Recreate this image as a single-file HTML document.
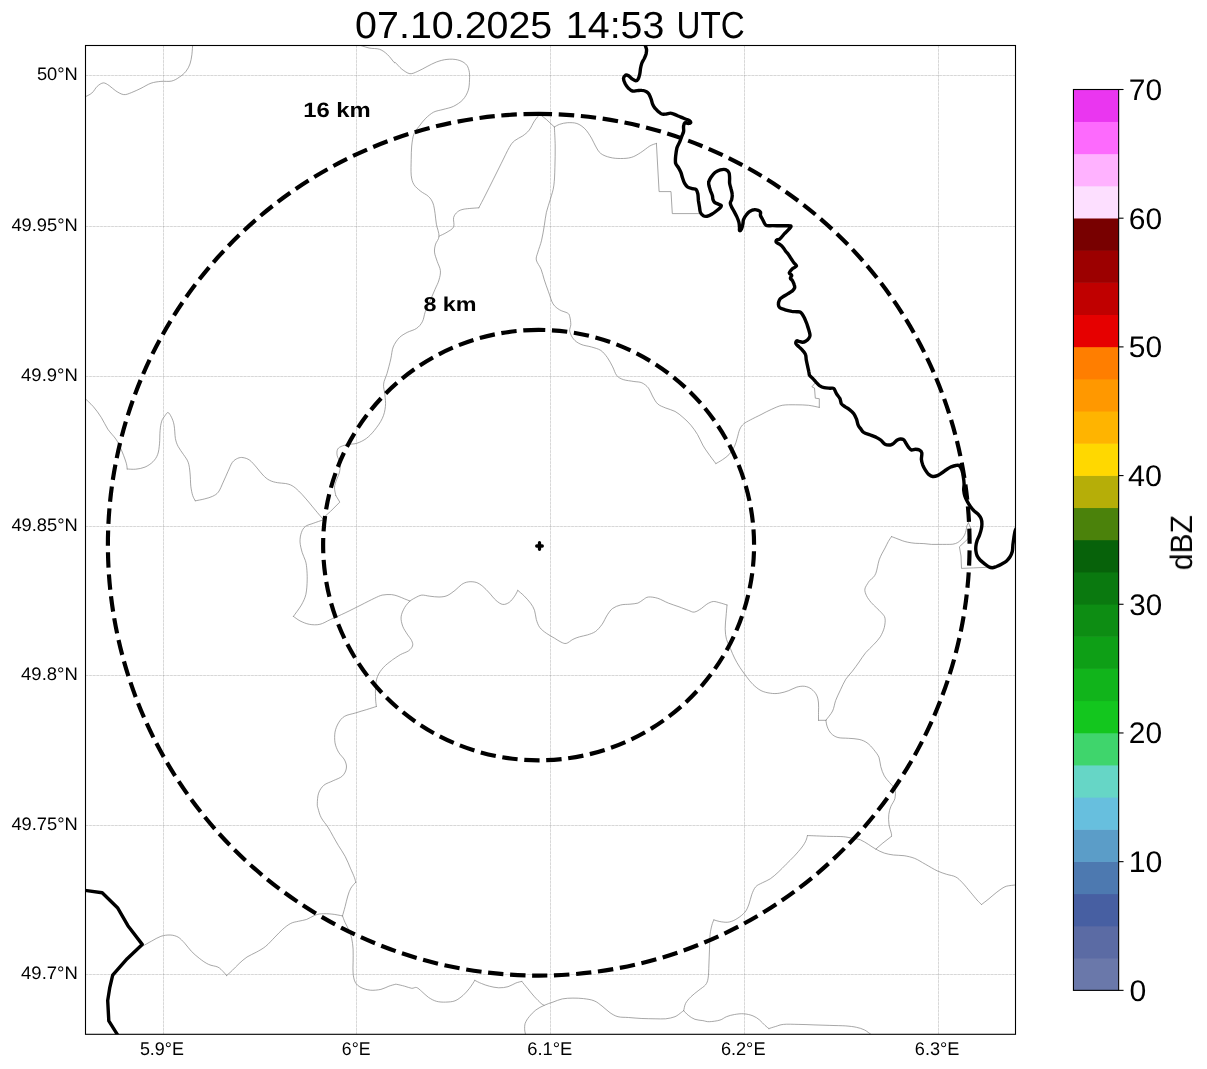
<!DOCTYPE html>
<html><head><meta charset="utf-8"><title>Radar 07.10.2025 14:53 UTC</title>
<style>html,body{margin:0;padding:0;background:#fff;}body{width:1207px;height:1069px;overflow:hidden;}svg{display:block;}text{font-family:"Liberation Sans",sans-serif;fill:#000;}</style>
</head><body>
<svg width="1207" height="1069" viewBox="0 0 1207 1069">
<rect x="0" y="0" width="1207" height="1069" fill="#ffffff"/>
<defs><clipPath id="axclip"><rect x="85.50" y="45.50" width="930.00" height="988.80"/></clipPath></defs>
<g clip-path="url(#axclip)">
<g stroke="#808080" stroke-opacity="0.13" stroke-width="1" fill="none">
<line x1="85.50" y1="75.50" x2="1015.50" y2="75.50"/>
<line x1="85.50" y1="226.50" x2="1015.50" y2="226.50"/>
<line x1="85.50" y1="376.50" x2="1015.50" y2="376.50"/>
<line x1="85.50" y1="526.50" x2="1015.50" y2="526.50"/>
<line x1="85.50" y1="675.50" x2="1015.50" y2="675.50"/>
<line x1="85.50" y1="825.50" x2="1015.50" y2="825.50"/>
<line x1="85.50" y1="974.50" x2="1015.50" y2="974.50"/>
<line x1="163.50" y1="1034.30" x2="163.50" y2="45.50"/>
<line x1="356.50" y1="1034.30" x2="356.50" y2="45.50"/>
<line x1="550.50" y1="1034.30" x2="550.50" y2="45.50"/>
<line x1="744.50" y1="1034.30" x2="744.50" y2="45.50"/>
<line x1="938.50" y1="1034.30" x2="938.50" y2="45.50"/>
</g>
<g stroke="#808080" stroke-opacity="0.21" stroke-width="1" stroke-dasharray="2.57 1.11" fill="none">
<line x1="85.50" y1="75.50" x2="1015.50" y2="75.50"/>
<line x1="85.50" y1="226.50" x2="1015.50" y2="226.50"/>
<line x1="85.50" y1="376.50" x2="1015.50" y2="376.50"/>
<line x1="85.50" y1="526.50" x2="1015.50" y2="526.50"/>
<line x1="85.50" y1="675.50" x2="1015.50" y2="675.50"/>
<line x1="85.50" y1="825.50" x2="1015.50" y2="825.50"/>
<line x1="85.50" y1="974.50" x2="1015.50" y2="974.50"/>
<line x1="163.50" y1="1034.30" x2="163.50" y2="45.50"/>
<line x1="356.50" y1="1034.30" x2="356.50" y2="45.50"/>
<line x1="550.50" y1="1034.30" x2="550.50" y2="45.50"/>
<line x1="744.50" y1="1034.30" x2="744.50" y2="45.50"/>
<line x1="938.50" y1="1034.30" x2="938.50" y2="45.50"/>
</g>
<g stroke="#848484" stroke-width="0.72" fill="none" stroke-linejoin="round" stroke-linecap="round">
<path d="M 84.8 97.0 C 86.0 96.3 89.9 94.8 91.9 93.0 C 94.0 91.3 95.3 88.1 97.2 86.4 C 99.1 84.7 101.3 83.1 103.3 82.9 C 105.3 82.8 107.1 84.3 109.2 85.6 C 111.2 86.9 113.4 89.4 115.8 90.9 C 118.2 92.4 121.1 94.3 123.7 94.6 C 126.4 94.9 128.8 93.6 131.7 92.5 C 134.6 91.4 137.8 89.8 141.0 88.3 C 144.2 86.7 147.7 84.4 151.0 83.2 C 154.4 82.1 157.5 81.7 160.9 81.4 C 164.3 81.0 168.4 81.8 171.5 81.1 C 174.6 80.4 177.0 78.8 179.4 77.1 C 181.8 75.5 184.3 73.5 186.0 71.3 C 187.8 69.1 189.0 66.6 190.0 63.9 C 191.0 61.1 191.4 57.9 191.9 54.6 C 192.3 51.3 192.5 46.0 192.7 44.2"/>
<path d="M 357.0 44.2 C 359.0 44.9 365.2 47.1 369.0 48.0 C 372.7 48.8 376.5 48.2 379.6 49.3 C 382.7 50.4 385.1 52.4 387.5 54.6 C 390.0 56.8 392.9 61.2 394.2 62.5 C 395.5 63.9 394.0 61.4 395.3 62.5 C 396.6 63.6 399.5 67.3 401.9 69.2 C 404.4 71.0 407.2 73.3 409.9 73.7 C 412.5 74.0 415.0 72.5 417.8 71.3 C 420.7 70.1 424.0 68.1 427.1 66.5 C 430.2 65.0 433.1 63.2 436.4 62.0 C 439.7 60.8 443.5 59.7 447.0 59.4 C 450.5 59.0 454.5 59.1 457.6 59.9 C 460.7 60.6 463.7 62.1 465.6 63.9 C 467.5 65.6 468.3 67.8 469.0 70.5 C 469.7 73.1 469.7 76.5 469.5 79.8 C 469.4 83.1 469.3 87.1 468.2 90.4 C 467.1 93.7 465.3 97.0 462.9 99.7 C 460.5 102.3 456.9 104.6 453.6 106.3 C 450.3 107.9 446.3 108.5 443.0 109.5 C 439.7 110.4 436.6 110.7 433.7 112.1 C 430.9 113.6 428.2 115.9 425.8 118.2 C 423.4 120.5 421.2 123.5 419.2 126.2 C 417.2 128.8 415.1 130.8 413.9 134.1 C 412.6 137.4 412.2 141.8 411.7 146.0 C 411.3 150.2 411.3 154.4 411.2 159.3 C 411.1 164.2 410.8 171.0 411.2 175.2 C 411.7 179.4 412.3 181.8 413.9 184.5 C 415.4 187.1 418.1 189.1 420.5 191.1 C 422.9 193.1 426.4 194.4 428.4 196.4 C 430.5 198.4 431.8 200.2 432.9 203.0 C 434.1 205.9 434.5 210.1 435.1 213.6 C 435.6 217.2 435.7 220.5 436.4 224.3 C 437.1 228.0 439.2 232.9 439.0 236.2 C 438.9 239.5 436.4 241.5 435.6 244.1 C 434.8 246.8 434.3 249.2 434.5 252.1 C 434.8 255.0 436.2 258.3 437.2 261.4 C 438.2 264.5 440.1 267.6 440.4 270.6 C 440.7 273.7 439.9 276.8 439.0 279.9 C 438.2 283.0 436.4 286.1 435.1 289.2 C 433.7 292.3 432.4 295.4 431.1 298.5 C 429.8 301.6 428.1 305.4 427.1 307.8 C 426.1 310.1 425.8 310.2 425.0 312.5 C 424.2 314.9 423.8 319.2 422.3 321.8 C 420.9 324.5 419.0 326.7 416.5 328.4 C 414.0 330.2 410.1 330.9 407.2 332.4 C 404.4 334.0 401.6 335.3 399.3 337.7 C 396.9 340.2 394.6 343.5 393.2 347.0 C 391.8 350.5 391.8 354.5 390.8 358.9 C 389.8 363.3 388.2 369.3 387.0 373.5 C 385.8 377.7 383.9 380.6 383.6 384.1 C 383.2 387.6 384.6 391.0 384.9 394.7 C 385.2 398.5 385.9 402.7 385.4 406.6 C 385.0 410.6 384.1 414.6 382.2 418.6 C 380.4 422.6 376.9 427.2 374.3 430.5 C 371.6 433.8 369.2 436.3 366.3 438.5 C 363.4 440.6 359.9 442.3 357.0 443.2 C 354.2 444.2 351.5 443.9 349.1 444.3 C 346.7 444.7 344.4 445.1 342.5 445.9 C 340.6 446.7 338.6 447.4 337.7 449.1 C 336.8 450.7 336.7 453.3 337.2 455.7 C 337.6 458.1 340.0 460.8 340.3 463.6 C 340.7 466.5 339.9 470.3 339.3 472.9 C 338.7 475.6 337.4 477.1 336.6 479.6 C 335.8 482.0 334.6 484.9 334.5 487.5 C 334.4 490.2 335.6 494.1 335.8 495.5"/>
<path d="M 335.8 495.5 L 339.8 502.1 L 330.5 511.4 L 322.6 518.5"/>
<path d="M 439.0 236.2 C 440.4 235.5 444.6 233.8 447.0 232.2 C 449.4 230.7 452.5 229.3 453.6 226.9 C 454.7 224.5 453.0 220.1 453.6 217.6 C 454.3 215.1 455.8 213.2 457.6 211.8 C 459.4 210.4 460.7 209.8 464.2 209.1 C 467.8 208.5 476.4 208.0 478.8 207.8"/>
<path d="M 478.8 207.8 C 479.9 205.7 483.0 199.9 485.4 195.1 C 487.9 190.3 490.7 184.5 493.4 179.2 C 496.0 173.9 498.7 168.6 501.3 163.3 C 504.0 158.0 507.1 151.1 509.3 147.4 C 511.5 143.6 512.4 142.6 514.6 140.7 C 516.8 138.8 520.1 137.7 522.6 136.0 C 525.0 134.2 527.2 132.7 529.2 130.1 C 531.2 127.6 532.7 123.5 534.5 120.9 C 536.3 118.2 538.9 115.3 539.8 114.2"/>
<path d="M 539.8 114.2 L 546.4 119.5 L 554.4 127.0"/>
<path d="M 554.4 127.0 C 555.3 126.5 557.5 125.0 559.7 124.3 C 561.9 123.6 564.8 122.8 567.6 122.7 C 570.5 122.6 574.0 122.5 576.9 123.5 C 579.8 124.5 582.4 126.4 584.9 128.8 C 587.3 131.2 589.7 135.2 591.5 138.1 C 593.3 141.0 593.9 143.5 595.5 146.0 C 597.0 148.6 598.3 151.6 600.8 153.5 C 603.2 155.4 606.7 156.6 610.0 157.4 C 613.4 158.3 617.1 158.5 620.6 158.5 C 624.2 158.5 627.9 158.4 631.3 157.4 C 634.6 156.5 637.4 154.6 640.5 152.7 C 643.6 150.8 647.2 147.6 649.8 146.0 C 652.5 144.5 655.3 143.8 656.4 143.4"/>
<path d="M 656.4 143.4 L 659.1 191.6 L 671.0 191.6 L 672.3 213.6 L 698.9 213.6"/>
<path d="M 554.4 127.0 C 554.5 130.1 555.1 139.3 555.2 146.0 C 555.3 152.8 555.1 160.6 554.9 167.3 C 554.7 173.9 554.6 180.5 553.8 185.8 C 553.1 191.1 551.6 194.6 550.4 199.1 C 549.2 203.5 547.4 207.9 546.4 212.3 C 545.4 216.7 545.1 220.9 544.3 225.6 C 543.5 230.2 542.7 235.7 541.6 240.2 C 540.6 244.6 538.8 248.8 537.9 252.1 C 537.0 255.4 535.8 257.2 536.3 260.0 C 536.9 262.9 539.8 266.0 541.1 269.3 C 542.4 272.6 543.1 276.2 544.3 279.9 C 545.5 283.7 547.1 287.9 548.5 291.9 C 550.0 295.8 551.2 300.8 553.0 303.8 C 554.9 306.8 557.2 308.3 559.7 309.9 C 562.1 311.4 565.9 312.0 567.6 313.1 C 569.3 314.2 569.2 314.6 569.7 316.5 C 570.3 318.4 570.8 322.0 570.8 324.5 C 570.8 326.9 569.3 328.7 569.7 331.1 C 570.2 333.5 571.6 336.8 573.5 339.0 C 575.3 341.3 577.9 343.0 580.9 344.3 C 583.9 345.7 588.2 346.0 591.5 347.0 C 594.8 348.0 598.1 348.7 600.8 350.4 C 603.4 352.2 605.4 354.9 607.4 357.6 C 609.4 360.3 611.1 363.9 612.7 366.9 C 614.2 369.8 614.9 373.2 616.7 375.4 C 618.4 377.5 620.4 378.6 623.3 379.6 C 626.2 380.6 630.8 380.9 633.9 381.5 C 637.0 382.0 639.4 381.7 641.9 382.8 C 644.3 383.9 646.7 385.9 648.5 388.1 C 650.3 390.3 650.9 393.4 652.5 396.0 C 654.0 398.7 655.6 402.0 657.8 404.0 C 660.0 406.0 662.8 406.7 665.7 408.0 C 668.6 409.2 672.1 409.9 675.0 411.4 C 677.9 413.0 680.3 415.0 682.9 417.3 C 685.6 419.6 688.5 422.3 690.9 425.2 C 693.3 428.1 695.5 431.2 697.5 434.5 C 699.5 437.8 701.1 442.0 702.8 445.1 C 704.6 448.2 705.8 450.0 708.0 453.0 C 710.1 456.1 714.6 461.9 715.9 463.6"/>
<path d="M 715.9 463.6 C 717.0 463.0 720.3 461.2 722.5 459.7 C 724.7 458.1 727.2 456.6 729.2 454.4 C 731.2 452.2 733.1 449.1 734.5 446.4 C 735.8 443.8 736.2 441.3 737.1 438.5 C 738.0 435.6 738.7 431.6 739.8 429.2 C 740.9 426.8 742.0 425.4 743.7 423.9 C 745.5 422.3 747.5 421.5 750.4 419.9 C 753.2 418.4 757.4 416.4 761.0 414.6 C 764.5 412.8 768.0 410.8 771.6 409.3 C 775.1 407.8 778.2 406.1 782.2 405.3 C 786.2 404.6 791.0 404.8 795.4 404.8 C 799.9 404.8 804.7 404.9 808.7 405.3 C 812.7 405.8 817.5 407.1 819.3 407.4"/>
<path d="M 819.3 407.4 L 819.3 398.7 L 815.3 398.2 L 814.5 388.1 L 811.9 386.8 L 815.3 382.8"/>
<path d="M 84.8 398.2 C 86.2 399.6 90.5 403.5 93.3 406.6 C 96.0 409.8 98.8 413.5 101.2 417.3 C 103.6 421.0 105.4 425.6 107.8 429.2 C 110.3 432.8 113.8 436.1 115.8 439.0 C 117.8 441.9 118.4 443.6 119.8 446.4 C 121.1 449.2 122.6 452.8 123.7 455.7 C 124.8 458.6 125.8 461.4 126.4 463.6 C 127.0 465.9 127.1 468.1 127.2 469.0"/>
<path d="M 127.2 469.0 C 128.6 469.0 132.7 469.5 135.7 469.2 C 138.6 468.9 142.1 468.3 145.0 467.1 C 147.8 465.9 150.8 463.9 152.9 461.8 C 155.0 459.7 156.6 457.4 157.7 454.4 C 158.8 451.4 159.1 447.7 159.5 443.8 C 159.9 439.8 159.7 434.3 160.1 430.5 C 160.4 426.8 160.9 423.7 161.7 421.2 C 162.4 418.8 163.8 417.4 164.8 415.9 C 165.9 414.5 166.9 412.3 168.0 412.5 C 169.1 412.7 170.4 415.1 171.5 417.3 C 172.5 419.4 173.5 421.7 174.1 425.2 C 174.8 428.7 174.8 434.9 175.4 438.5 C 176.1 442.0 176.8 443.8 178.1 446.4 C 179.4 449.1 181.7 451.7 183.4 454.4 C 185.1 457.0 187.1 459.2 188.2 462.3 C 189.3 465.4 189.6 469.0 190.0 472.9 C 190.5 476.9 190.4 482.4 190.8 486.2 C 191.3 489.9 191.9 493.0 192.7 495.5 C 193.4 497.9 194.9 499.9 195.3 500.8"/>
<path d="M 195.3 500.8 C 196.9 500.5 201.7 499.7 204.6 498.9 C 207.5 498.2 210.3 497.4 212.6 496.3 C 214.9 495.1 216.6 494.4 218.4 492.0 C 220.2 489.7 221.6 485.6 223.2 482.2 C 224.8 478.8 226.4 474.9 227.9 471.6 C 229.5 468.3 230.8 464.5 232.4 462.3 C 234.1 460.1 236.0 459.1 237.7 458.3 C 239.5 457.6 241.1 457.2 243.0 457.6 C 245.0 457.9 247.5 458.6 249.7 460.2 C 251.9 461.8 254.1 464.6 256.3 467.1 C 258.5 469.6 260.7 472.8 262.9 475.0 C 265.1 477.3 267.1 479.1 269.6 480.3 C 272.0 481.6 274.9 482.2 277.5 482.7 C 280.2 483.3 283.0 483.0 285.5 483.5 C 287.9 484.0 289.9 484.4 292.1 485.7 C 294.3 486.9 296.5 488.9 298.7 491.0 C 300.9 493.0 303.1 495.6 305.3 498.1 C 307.6 500.6 309.8 503.4 312.0 506.1 C 314.2 508.7 316.8 511.9 318.6 514.0 C 320.4 516.1 321.9 517.8 322.6 518.5"/>
<path d="M 322.6 520.1 C 321.0 520.6 316.2 522.2 313.3 523.3 C 310.4 524.4 307.3 524.9 305.3 526.5 C 303.4 528.0 302.3 530.0 301.4 532.6 C 300.5 535.1 299.9 538.5 300.0 541.9 C 300.2 545.2 301.3 549.4 302.2 552.5 C 303.0 555.6 304.6 557.9 305.3 560.4 C 306.1 563.0 306.4 564.6 306.7 567.8 C 307.0 571.1 307.3 575.3 307.2 579.8 C 307.1 584.2 306.8 590.2 305.9 594.3 C 304.9 598.5 303.4 601.3 301.4 605.0 C 299.3 608.6 294.7 614.5 293.4 616.4"/>
<path d="M 293.4 616.4 C 294.5 617.1 297.4 619.5 300.0 620.9 C 302.7 622.2 306.0 623.7 309.3 624.3 C 312.6 624.9 316.4 625.1 319.9 624.3 C 323.5 623.5 326.3 621.4 330.5 619.5 C 334.7 617.6 340.0 615.3 345.1 612.9 C 350.2 610.5 356.2 607.4 361.0 605.0 C 365.9 602.5 370.7 600.0 374.3 598.3 C 377.8 596.7 379.4 595.8 382.2 595.1 C 385.1 594.5 388.9 594.4 391.5 594.6 C 394.1 594.8 395.8 595.5 398.0 596.2 C 400.1 596.9 402.6 598.1 404.6 598.9 C 406.6 599.7 409.0 600.6 409.9 601.0"/>
<path d="M 409.9 601.0 C 410.8 600.4 413.2 598.8 415.2 597.8 C 417.2 596.8 419.4 595.4 421.8 595.1 C 424.2 594.9 426.9 595.9 429.8 596.2 C 432.6 596.5 436.2 597.1 439.0 597.0 C 441.9 596.9 444.3 596.8 447.0 595.7 C 449.7 594.6 452.5 592.2 455.0 590.4 C 457.4 588.5 459.4 586.0 461.6 584.5 C 463.8 583.1 465.8 582.2 468.2 581.9 C 470.6 581.5 473.7 581.7 476.2 582.4 C 478.6 583.2 480.6 584.6 482.8 586.4 C 485.0 588.2 487.2 590.7 489.4 593.0 C 491.6 595.4 493.8 598.5 496.0 600.4 C 498.3 602.3 500.5 604.1 502.7 604.4 C 504.9 604.7 507.3 603.7 509.3 602.3 C 511.3 600.9 513.2 598.2 514.6 596.2 C 516.0 594.2 517.3 591.3 517.8 590.4"/>
<path d="M 517.8 590.4 C 518.8 591.3 521.8 593.6 523.9 595.7 C 526.0 597.8 528.7 600.7 530.5 603.1 C 532.3 605.5 533.5 607.5 534.5 610.3 C 535.5 613.0 535.5 616.7 536.3 619.5 C 537.2 622.4 538.1 625.2 539.8 627.5 C 541.5 629.8 544.0 631.6 546.4 633.3 C 548.8 635.1 551.9 636.6 554.4 638.1 C 556.8 639.5 559.0 641.2 561.0 642.1 C 563.0 643.0 564.3 643.8 566.3 643.4 C 568.3 643.0 570.7 640.5 572.9 639.4 C 575.1 638.3 577.1 637.5 579.6 636.8 C 582.0 636.0 584.9 635.8 587.5 634.9 C 590.2 634.0 593.0 633.2 595.5 631.5 C 597.9 629.7 600.1 627.1 602.1 624.3 C 604.1 621.5 605.6 617.4 607.4 614.8 C 609.2 612.1 610.5 610.0 612.7 608.4 C 614.9 606.8 617.8 605.7 620.6 605.0 C 623.5 604.2 627.1 604.5 629.9 604.2 C 632.8 603.8 635.7 603.8 637.9 603.1 C 640.1 602.3 641.4 600.7 643.2 599.7 C 644.9 598.6 646.1 597.2 648.5 597.0 C 650.9 596.8 654.4 597.3 657.8 598.3 C 661.1 599.3 664.8 601.7 668.4 603.1 C 671.9 604.5 675.7 605.6 679.0 606.8 C 682.3 608.0 685.7 609.4 688.3 610.3 C 690.8 611.1 692.1 612.4 694.3 612.1 C 696.6 611.8 699.4 609.7 701.5 608.4 C 703.6 607.1 704.8 605.3 706.8 604.2 C 708.8 603.0 711.1 601.7 713.3 601.5 C 715.4 601.3 717.6 602.3 719.9 602.8 C 722.2 603.4 725.8 604.6 727.0 605.0"/>
<path d="M 727.0 605.0 C 726.9 606.9 726.3 612.9 726.0 616.9 C 725.7 620.9 725.1 625.1 725.2 628.8 C 725.3 632.6 725.6 636.1 726.5 639.4 C 727.4 642.7 729.2 645.6 730.5 648.7 C 731.8 651.8 732.9 654.9 734.5 658.0 C 736.0 661.1 737.8 664.2 739.8 667.3 C 741.8 670.3 744.2 673.7 746.4 676.5 C 748.6 679.4 750.6 682.1 753.0 684.5 C 755.5 686.8 758.1 689.1 761.0 690.6 C 763.8 692.0 767.2 692.8 770.3 693.2 C 773.3 693.7 776.4 693.7 779.5 693.2 C 782.6 692.8 785.9 691.6 788.8 690.6 C 791.7 689.6 794.1 687.8 796.8 687.1 C 799.4 686.4 802.3 686.0 804.7 686.3 C 807.1 686.7 809.4 687.5 811.3 689.0 C 813.3 690.5 815.5 692.7 816.6 695.1 C 817.8 697.4 818.2 700.2 818.5 703.0 C 818.8 705.9 818.5 709.5 818.5 712.3 C 818.5 715.2 818.5 719.0 818.5 720.3"/>
<path d="M 818.5 720.3 L 825.9 720.3"/>
<path d="M 409.9 601.0 C 409.0 602.1 406.0 605.0 404.6 607.6 C 403.1 610.3 401.4 613.8 401.1 616.9 C 400.8 620.0 401.7 623.3 402.7 626.2 C 403.7 629.0 405.7 631.7 407.2 634.1 C 408.7 636.5 410.9 638.8 411.7 640.7 C 412.6 642.7 413.1 644.4 412.5 646.0 C 412.0 647.7 410.5 649.4 408.6 650.8 C 406.6 652.2 403.0 653.2 400.6 654.5 C 398.2 655.9 395.5 657.8 394.0 658.8 C 392.5 659.8 393.2 659.2 391.5 660.6 C 389.8 662.0 385.9 664.6 383.6 667.3 C 381.2 669.9 378.8 673.2 377.5 676.5 C 376.1 679.8 375.9 683.4 375.6 687.1 C 375.3 690.9 375.5 695.8 375.6 699.1 C 375.7 702.3 376.3 705.3 376.4 706.5"/>
<path d="M 376.4 706.5 C 374.7 707.0 369.8 708.6 366.3 709.7 C 362.9 710.7 359.3 711.7 355.7 712.9 C 352.1 714.0 347.5 714.6 344.6 716.3 C 341.7 718.0 340.1 720.3 338.5 722.9 C 336.9 725.6 335.6 728.9 335.0 732.2 C 334.5 735.5 334.5 739.5 335.0 742.8 C 335.6 746.1 336.9 749.2 338.5 752.1 C 340.1 755.0 343.3 757.4 344.6 760.0 C 345.9 762.7 346.8 765.3 346.4 768.0 C 346.1 770.6 344.7 773.8 342.5 775.9 C 340.3 778.1 336.3 779.2 333.2 780.7 C 330.1 782.3 326.3 783.2 323.9 785.2 C 321.5 787.3 319.7 790.1 318.6 793.2 C 317.5 796.3 317.4 801.2 317.3 803.8 C 317.2 806.3 317.4 806.2 318.1 808.6 C 318.7 810.9 319.6 814.7 321.3 817.8 C 322.9 820.9 325.9 824.0 327.9 827.1 C 329.9 830.2 331.4 833.3 333.2 836.4 C 334.9 839.5 336.5 842.4 338.5 845.7 C 340.5 849.0 343.1 852.5 345.1 856.3 C 347.1 860.0 348.9 864.7 350.4 868.2 C 352.0 871.7 353.5 875.1 354.4 877.5 C 355.3 879.8 355.5 881.5 355.7 882.3"/>
<path d="M 355.7 882.3 C 354.9 883.2 352.3 885.8 350.9 888.1 C 349.6 890.4 348.7 893.0 347.8 896.0 C 346.8 899.1 346.0 903.3 345.1 906.6 C 344.2 910.0 342.9 914.4 342.5 915.9"/>
<path d="M 968.5 522.8 C 968.3 523.3 967.3 524.6 966.9 525.8 C 966.5 527.1 966.5 528.6 966.1 530.2 C 965.7 531.7 965.3 533.5 964.6 535.0 C 963.8 536.5 962.7 538.1 961.5 539.3 C 960.4 540.6 959.2 541.7 957.8 542.5 C 956.3 543.3 954.8 543.9 952.9 544.2 C 951.0 544.5 948.8 544.3 946.5 544.4 C 944.1 544.4 941.4 544.4 938.9 544.4 C 936.4 544.4 933.9 544.5 931.4 544.4 C 928.9 544.2 926.5 543.8 923.9 543.6 C 921.2 543.4 917.9 543.5 915.2 543.3 C 912.5 543.1 909.8 542.6 907.7 542.2 C 905.5 541.8 904.1 541.3 902.3 540.7 C 900.5 540.1 898.7 539.2 896.9 538.6 C 895.1 537.9 892.4 536.9 891.5 536.6"/>
<path d="M 891.5 536.6 C 891.0 537.4 889.4 539.6 888.3 541.5 C 887.2 543.3 886.2 545.9 885.1 547.9 C 884.0 550.0 882.8 551.9 881.8 553.9 C 880.9 555.8 879.9 557.6 879.2 559.8 C 878.4 561.9 878.1 564.5 877.5 566.8 C 877.0 569.0 876.6 571.4 875.9 573.2 C 875.2 575.0 874.2 576.4 873.2 577.5 C 872.2 578.7 870.8 579.4 870.0 580.2 C 869.2 581.0 869.2 580.9 868.3 582.4 C 867.5 583.9 865.2 586.8 864.9 589.0 C 864.6 591.3 865.5 593.5 866.5 595.7 C 867.5 597.9 869.4 600.3 871.0 602.3 C 872.6 604.3 874.5 605.8 876.3 607.6 C 878.1 609.4 880.1 611.1 881.6 612.9 C 883.1 614.7 884.6 615.8 885.0 618.2 C 885.5 620.6 885.0 624.4 884.3 627.5 C 883.5 630.6 882.0 633.9 880.3 636.8 C 878.5 639.6 876.1 642.1 873.6 644.7 C 871.2 647.4 868.1 649.8 865.7 652.7 C 863.3 655.5 861.3 658.9 859.1 662.0 C 856.9 665.0 854.6 668.4 852.4 671.2 C 850.2 674.1 847.8 676.1 845.8 679.2 C 843.8 682.3 842.2 686.3 840.5 689.8 C 838.8 693.3 837.1 696.9 835.7 700.4 C 834.4 703.9 834.2 707.7 832.6 711.0 C 830.9 714.3 827.0 718.7 825.9 720.3"/>
<path d="M 968.5 522.8 L 970.7 528.0 L 970.2 535.5 L 967.5 539.3 L 959.4 546.8 L 961.0 556.0 L 961.5 568.4 L 973.4 567.9 L 986.9 567.3"/>
<path d="M 825.9 720.3 C 826.1 721.4 826.4 724.7 827.3 726.9 C 828.1 729.1 829.5 731.8 831.2 733.5 C 833.0 735.3 835.0 736.7 837.9 737.5 C 840.7 738.3 844.9 738.0 848.5 738.3 C 852.0 738.6 856.0 738.6 859.1 739.4 C 862.2 740.1 864.6 741.1 867.0 742.8 C 869.5 744.5 871.7 747.0 873.6 749.4 C 875.6 751.9 877.8 754.5 879.0 757.4 C 880.1 760.3 879.9 763.6 880.8 766.7 C 881.7 769.8 882.8 773.3 884.3 775.9 C 885.7 778.6 887.8 780.4 889.6 782.6 C 891.3 784.8 894.0 786.6 894.9 789.2 C 895.7 791.9 895.5 795.6 894.9 798.5 C 894.2 801.4 891.9 803.8 890.9 806.4 C 889.9 809.1 889.1 811.4 888.8 814.4 C 888.4 817.4 888.6 821.2 889.0 824.5 C 889.5 827.7 891.0 831.8 891.4 833.7 C 891.8 835.7 891.4 836.0 891.4 836.4"/>
<path d="M 891.4 836.4 L 882.9 843.0 L 875.8 849.1"/>
<path d="M 143.1 945.9 C 144.5 945.1 148.6 942.7 151.6 941.1 C 154.5 939.5 157.8 937.4 160.9 936.3 C 164.0 935.3 167.3 934.9 170.1 935.0 C 173.0 935.1 175.7 935.8 178.1 937.1 C 180.5 938.5 182.5 940.9 184.7 943.2 C 186.9 945.6 188.9 948.7 191.3 951.2 C 193.8 953.7 196.4 956.1 199.3 958.3 C 202.2 960.6 205.5 963.0 208.6 964.4 C 211.7 965.9 215.4 965.9 217.9 967.1 C 220.3 968.3 221.7 970.2 223.2 971.6 C 224.6 973.0 226.0 974.9 226.6 975.6"/>
<path d="M 226.6 975.6 C 227.6 974.7 230.4 972.3 232.4 970.3 C 234.5 968.3 236.6 965.9 239.1 963.6 C 241.5 961.4 244.1 958.9 247.0 957.0 C 249.9 955.1 253.2 954.0 256.3 952.2 C 259.4 950.5 262.5 948.9 265.6 946.4 C 268.7 943.9 272.0 940.0 274.9 937.1 C 277.7 934.3 280.2 931.5 282.8 929.2 C 285.5 926.9 288.1 924.7 290.8 923.4 C 293.4 922.0 296.1 921.9 298.7 921.2 C 301.4 920.6 304.0 920.3 306.7 919.4 C 309.3 918.4 312.2 916.3 314.6 915.4 C 317.1 914.5 318.4 914.0 321.3 913.8 C 324.1 913.6 328.3 913.7 331.9 914.1 C 335.4 914.4 340.7 915.6 342.5 915.9"/>
<path d="M 342.5 915.9 C 342.9 917.0 344.0 920.1 345.1 922.6 C 346.2 925.0 348.0 927.9 349.1 930.5 C 350.2 933.2 351.1 935.4 351.7 938.5 C 352.4 941.6 352.8 945.1 353.1 949.1 C 353.3 953.0 353.1 958.3 353.1 962.3 C 353.1 966.3 352.7 969.6 353.1 972.9 C 353.4 976.2 353.9 979.8 355.2 982.2 C 356.5 984.6 358.5 986.2 361.0 987.5 C 363.5 988.8 367.0 989.8 370.3 990.2 C 373.6 990.5 377.8 990.0 380.9 989.4 C 384.0 988.7 386.4 987.0 388.9 986.2 C 391.3 985.3 394.2 984.6 395.5 984.3 C 396.8 984.0 395.1 984.0 396.6 984.3 C 398.1 984.6 402.1 985.5 404.6 986.2 C 407.1 986.8 409.8 988.1 411.7 988.3 C 413.7 988.5 414.8 987.0 416.5 987.5 C 418.2 988.0 419.8 989.8 421.8 991.5 C 423.8 993.1 426.0 995.7 428.4 997.3 C 430.9 999.0 433.5 1000.5 436.4 1001.3 C 439.3 1002.1 442.6 1002.2 445.7 1002.1 C 448.8 1002.0 452.1 1001.9 455.0 1000.8 C 457.8 999.7 460.5 997.5 462.9 995.5 C 465.3 993.4 467.5 990.8 469.5 988.3 C 471.5 985.8 474.0 981.7 474.8 980.3"/>
<path d="M 474.8 980.3 C 475.9 980.9 479.0 982.6 481.5 983.5 C 483.9 984.5 486.5 985.5 489.4 986.2 C 492.3 986.9 495.6 987.7 498.7 987.8 C 501.8 987.9 505.1 987.5 508.0 986.7 C 510.8 985.9 513.6 983.9 515.9 983.0 C 518.2 982.1 520.8 981.7 521.8 981.4"/>
<path d="M 521.8 981.4 C 522.8 982.6 525.7 986.3 527.9 988.8 C 530.0 991.4 532.3 994.4 534.5 996.8 C 536.7 999.2 539.5 1002.0 541.1 1003.4 C 542.7 1004.8 543.8 1005.0 544.3 1005.3"/>
<path d="M 525.7 1035.2 C 525.6 1034.3 524.8 1031.9 524.7 1029.9 C 524.6 1027.9 524.5 1025.5 525.2 1023.3 C 526.0 1021.1 527.4 1018.9 529.2 1016.7 C 531.0 1014.5 533.3 1011.9 535.8 1010.0 C 538.3 1008.1 541.4 1006.6 544.3 1005.3 C 547.2 1003.9 550.0 1003.1 553.0 1002.1 C 556.0 1001.0 559.0 999.6 562.3 998.9 C 565.6 998.2 569.4 998.2 572.9 998.1 C 576.5 998.1 580.0 998.2 583.5 998.6 C 587.1 999.1 591.0 999.5 594.1 1000.8 C 597.2 1002.0 599.4 1004.1 602.1 1006.1 C 604.7 1008.1 607.4 1010.9 610.0 1012.7 C 612.7 1014.5 614.9 1015.9 618.0 1016.7 C 621.1 1017.5 624.6 1017.2 628.6 1017.5 C 632.6 1017.8 637.4 1018.3 641.9 1018.5 C 646.3 1018.7 651.1 1018.7 655.1 1018.8 C 659.1 1018.8 662.4 1019.1 665.7 1018.8 C 669.0 1018.4 672.3 1017.8 675.0 1016.7 C 677.6 1015.6 680.2 1013.2 681.6 1012.2 C 683.1 1011.1 683.4 1010.8 683.7 1010.6"/>
<path d="M 683.7 1010.6 C 684.1 1009.4 684.4 1005.7 685.6 1003.4 C 686.8 1001.1 688.7 999.0 690.9 996.8 C 693.1 994.6 696.4 992.1 698.9 990.2 C 701.3 988.2 703.9 986.8 705.5 984.9 C 707.0 982.9 707.6 981.5 708.1 978.2 C 708.7 974.9 708.7 969.8 708.9 965.0 C 709.1 960.1 709.3 954.1 709.5 949.1 C 709.7 944.0 709.7 938.5 710.1 934.5 C 710.5 930.5 711.3 927.6 711.9 925.2 C 712.5 922.8 713.5 920.8 713.8 919.9"/>
<path d="M 713.8 919.9 C 715.0 920.2 718.6 921.4 721.2 921.8 C 723.8 922.1 726.5 922.6 729.2 922.0 C 731.8 921.5 734.5 920.3 737.1 918.6 C 739.8 916.9 743.1 914.4 745.1 912.0 C 747.1 909.5 747.9 906.9 749.0 904.0 C 750.2 901.1 750.6 897.6 751.7 894.7 C 752.8 891.8 753.9 888.8 755.7 886.8 C 757.4 884.8 759.9 884.1 762.3 882.8 C 764.7 881.5 767.6 880.6 770.3 878.8 C 772.9 877.0 775.6 874.6 778.2 872.2 C 780.9 869.8 783.5 866.9 786.2 864.2 C 788.8 861.6 791.5 859.1 794.1 856.3 C 796.8 853.4 800.1 849.7 802.1 847.0 C 804.1 844.3 805.2 842.3 806.0 840.4 C 806.9 838.5 807.1 836.4 807.4 835.6"/>
<path d="M 807.4 835.6 C 808.9 835.6 812.9 835.7 816.6 835.9 C 820.4 836.0 825.5 836.3 829.9 836.4 C 834.3 836.5 839.4 836.4 843.2 836.7 C 846.9 837.0 849.6 837.7 852.4 838.3 C 855.3 838.8 857.7 838.8 860.4 839.8 C 863.0 840.9 865.8 842.8 868.3 844.3 C 870.9 845.9 873.1 847.7 875.8 849.1 C 878.4 850.6 881.3 852.1 884.3 853.1 C 887.2 854.1 890.2 854.5 893.5 855.0 C 896.8 855.4 900.6 855.2 904.1 855.7 C 907.7 856.3 911.2 857.0 914.7 858.4 C 918.3 859.8 921.6 862.2 925.3 864.2 C 929.1 866.3 933.7 869.2 937.3 870.9 C 940.8 872.5 943.5 873.3 946.6 874.3 C 949.6 875.3 953.2 875.5 955.8 877.0 C 958.5 878.4 960.0 880.3 962.5 882.8 C 964.9 885.3 968.0 889.2 970.4 892.1 C 972.8 894.9 975.2 897.9 977.0 900.0 C 978.9 902.1 980.8 903.8 981.5 904.5"/>
<path d="M 981.5 904.5 C 982.8 903.6 986.4 900.8 989.0 898.7 C 991.5 896.6 994.3 894.1 996.9 892.1 C 999.6 890.1 1002.4 887.9 1004.9 886.8 C 1007.3 885.7 1009.5 885.7 1011.5 885.4 C 1013.5 885.1 1015.9 885.0 1016.8 884.9"/>
<path d="M 683.7 1010.6 C 684.5 1011.4 686.4 1013.9 688.3 1015.3 C 690.1 1016.8 692.4 1018.4 694.9 1019.3 C 697.3 1020.2 700.4 1020.2 702.8 1020.6 C 705.2 1021.0 706.4 1021.8 709.3 1021.7 C 712.1 1021.6 717.0 1021.0 719.9 1020.1 C 722.8 1019.3 724.1 1017.6 726.5 1016.7 C 728.9 1015.7 731.6 1015.0 734.5 1014.5 C 737.3 1014.1 740.7 1013.5 743.7 1013.8 C 746.8 1014.0 750.4 1014.8 753.0 1015.9 C 755.7 1016.9 757.7 1018.5 759.7 1020.1 C 761.6 1021.7 763.4 1024.0 765.0 1025.4 C 766.5 1026.8 768.3 1028.1 768.9 1028.6"/>
<path d="M 768.9 1028.6 C 770.0 1028.2 773.1 1027.2 775.6 1026.5 C 778.0 1025.8 779.8 1024.7 783.5 1024.4 C 787.3 1024.0 793.0 1024.3 798.1 1024.4 C 803.2 1024.4 808.7 1024.7 814.0 1024.9 C 819.3 1025.1 824.6 1025.2 829.9 1025.4 C 835.2 1025.6 841.4 1025.6 845.8 1025.9 C 850.2 1026.3 853.3 1026.6 856.4 1027.3 C 859.5 1027.9 861.9 1028.7 864.4 1029.9 C 866.8 1031.1 869.9 1033.7 871.0 1034.4"/>
</g>
<g stroke="#000" stroke-width="3.4" fill="none" stroke-linejoin="round" stroke-linecap="butt">
<path d="M 644.7 44.0 C 645.0 44.9 646.2 47.6 646.5 49.3 C 646.7 50.9 646.4 52.4 646.1 53.9 C 645.7 55.5 644.9 57.0 644.2 58.6 C 643.5 60.1 642.4 61.5 641.8 63.2 C 641.2 64.9 640.8 66.7 640.5 68.5 C 640.2 70.3 640.2 72.0 639.8 73.8 C 639.4 75.6 638.8 77.9 638.1 79.1 C 637.4 80.3 636.8 80.8 635.8 80.8 C 634.9 80.8 633.7 79.9 632.5 79.1 C 631.3 78.3 629.7 76.5 628.6 75.8 C 627.4 75.1 626.5 74.7 625.6 75.1 C 624.8 75.6 623.6 77.0 623.5 78.4 C 623.5 79.9 624.4 82.1 625.2 83.7 C 626.1 85.4 627.3 87.2 628.6 88.4 C 629.8 89.6 631.1 90.7 632.5 91.0 C 634.0 91.4 635.6 90.7 637.2 90.6 C 638.7 90.5 640.3 90.2 641.8 90.4 C 643.4 90.5 645.2 91.0 646.5 91.7 C 647.7 92.4 648.3 93.1 649.1 94.3 C 649.9 95.6 650.5 97.3 651.1 99.0 C 651.7 100.6 652.0 102.7 652.7 104.3 C 653.3 105.8 654.1 107.1 655.1 108.3 C 656.0 109.5 657.3 110.6 658.4 111.6 C 659.5 112.5 660.4 113.6 661.7 114.0 C 663.0 114.4 664.8 114.1 666.3 114.0 C 667.9 113.8 669.4 113.0 671.0 113.2 C 672.5 113.3 674.0 114.2 675.6 114.9 C 677.3 115.6 679.1 116.4 680.9 117.1 C 682.7 117.9 684.8 118.7 686.2 119.3 C 687.7 119.8 688.8 120.0 689.5 120.6 C 690.3 121.2 690.8 122.4 690.6 122.8 C 690.4 123.3 689.2 123.5 688.2 123.5 C 687.3 123.5 685.7 122.4 684.9 122.8 C 684.1 123.3 683.8 124.7 683.6 126.2 C 683.3 127.6 683.9 129.7 683.6 131.5 C 683.2 133.2 682.2 135.0 681.6 136.8 C 680.9 138.5 680.4 140.2 679.6 142.1 C 678.8 143.9 677.6 145.6 676.9 148.0 C 676.3 150.5 675.9 154.1 675.6 156.6 C 675.4 159.2 675.2 161.4 675.6 163.3 C 676.1 165.1 677.7 166.3 678.6 167.9 C 679.4 169.4 680.3 170.9 680.9 172.5 C 681.6 174.2 681.9 176.1 682.5 177.8 C 683.1 179.6 683.6 181.6 684.5 183.1 C 685.4 184.7 686.5 186.2 687.8 187.1 C 689.2 188.0 691.1 188.3 692.5 188.7 C 693.8 189.1 695.2 188.7 696.1 189.5 C 696.9 190.3 697.4 191.9 697.8 193.7 C 698.2 195.6 698.2 198.2 698.4 200.4 C 698.7 202.6 699.2 205.0 699.5 207.0 C 699.8 209.0 699.8 210.9 700.4 212.3 C 701.0 213.7 702.0 215.0 703.1 215.6 C 704.2 216.3 705.6 216.5 707.1 216.3 C 708.5 216.1 710.2 215.2 711.7 214.3 C 713.2 213.4 714.9 212.1 716.3 211.0 C 717.8 209.9 719.5 208.6 720.3 207.7 C 721.1 206.7 721.6 206.0 721.2 205.4 C 720.9 204.8 719.4 204.6 718.3 204.1 C 717.2 203.6 715.5 203.1 714.6 202.4 C 713.7 201.6 713.4 200.8 713.0 199.7 C 712.6 198.6 712.8 197.2 712.4 195.7 C 712.0 194.3 711.2 192.7 710.6 191.1 C 710.1 189.4 709.4 187.3 709.0 185.8 C 708.7 184.2 708.4 183.2 708.8 181.8 C 709.1 180.4 710.0 178.7 711.0 177.2 C 712.1 175.6 713.5 173.7 715.0 172.5 C 716.6 171.3 718.5 170.4 720.3 169.9 C 722.1 169.4 724.2 169.2 725.6 169.6 C 727.1 170.1 728.3 171.2 728.9 172.5 C 729.6 173.9 729.5 176.1 729.6 177.8 C 729.7 179.6 729.4 181.4 729.6 183.1 C 729.8 184.9 730.5 186.6 730.9 188.4 C 731.4 190.3 732.1 192.5 732.2 194.4 C 732.4 196.3 731.9 198.3 731.6 199.7 C 731.2 201.1 730.3 201.8 730.3 203.0 C 730.3 204.2 730.9 205.6 731.6 207.0 C 732.2 208.4 733.3 210.0 734.2 211.6 C 735.1 213.3 736.1 215.2 736.9 216.9 C 737.7 218.7 738.4 220.5 738.9 222.2 C 739.3 224.0 739.4 226.2 739.5 227.5 C 739.6 228.9 739.2 230.4 739.5 230.6 C 739.9 230.8 741.0 229.9 741.5 228.9 C 742.1 227.8 742.5 225.8 742.8 224.2 C 743.2 222.7 743.0 221.1 743.5 219.6 C 744.1 218.0 745.1 216.3 746.2 215.0 C 747.3 213.6 748.8 212.1 750.1 211.2 C 751.5 210.4 752.8 209.8 754.1 209.7 C 755.4 209.5 757.0 209.9 758.1 210.3 C 759.2 210.8 760.1 211.4 760.5 212.3 C 760.9 213.2 760.1 214.4 760.5 215.6 C 760.9 216.8 761.8 218.0 762.7 219.6 C 763.7 221.2 764.4 224.3 766.0 225.3 C 767.7 226.3 770.0 225.5 772.7 225.6 C 775.3 225.6 779.0 225.8 782.0 225.8 C 784.9 225.9 789.4 225.3 790.6 225.8 C 791.8 226.3 790.2 227.6 789.2 228.9 C 788.2 230.2 786.1 231.9 784.6 233.5 C 783.1 235.2 781.3 237.7 780.0 238.8 C 778.6 239.9 777.2 239.5 776.6 240.1 C 776.1 240.8 775.9 241.9 776.4 242.5 C 776.8 243.2 778.3 243.4 779.3 244.1 C 780.3 244.8 781.6 245.7 782.6 246.8 C 783.6 247.9 784.3 249.4 785.3 250.7 C 786.3 252.1 787.6 253.4 788.6 254.7 C 789.6 256.0 790.3 257.4 791.2 258.7 C 792.1 260.0 793.0 261.5 793.9 262.7 C 794.8 263.9 796.8 265.0 796.5 266.0 C 796.3 267.0 793.8 267.5 792.6 268.6 C 791.4 269.8 789.5 271.8 789.3 272.9 C 789.2 274.0 791.5 274.4 791.7 275.3 C 791.9 276.2 790.3 277.3 790.4 278.2 C 790.5 279.1 791.7 279.4 792.4 280.6 C 793.0 281.8 794.0 284.0 794.3 285.2 C 794.7 286.5 794.9 286.9 794.6 287.9 C 794.3 288.8 793.5 289.9 792.4 290.9 C 791.2 291.9 789.4 292.8 787.7 293.9 C 786.1 294.9 783.8 296.2 782.4 297.2 C 781.0 298.2 780.2 298.6 779.5 299.8 C 778.8 301.0 778.4 303.1 778.4 304.5 C 778.5 305.8 778.7 306.9 779.8 307.8 C 780.9 308.7 783.1 309.2 785.1 309.8 C 787.1 310.4 789.7 311.0 791.7 311.4 C 793.7 311.7 795.5 311.6 797.0 311.8 C 798.5 311.9 799.6 311.6 800.7 312.4 C 801.8 313.2 802.7 314.7 803.6 316.4 C 804.6 318.1 805.5 320.4 806.3 322.4 C 807.1 324.3 807.6 326.2 808.3 328.3 C 808.9 330.4 809.9 333.3 810.0 335.0 C 810.1 336.6 809.7 337.2 808.9 338.3 C 808.2 339.3 806.7 340.7 805.6 341.3 C 804.5 342.0 803.4 342.2 802.3 342.2 C 801.2 342.2 799.9 341.5 799.0 341.3 C 798.1 341.1 797.2 340.5 796.7 340.9 C 796.2 341.3 795.6 342.6 795.9 343.6 C 796.3 344.6 797.8 345.7 799.0 346.9 C 800.2 348.1 801.9 349.5 803.0 350.9 C 804.1 352.2 805.1 353.3 805.6 354.8 C 806.2 356.4 805.9 358.3 806.3 360.1 C 806.6 362.0 807.2 364.1 807.6 366.1 C 808.0 368.1 808.6 370.5 808.9 372.1 C 809.3 373.6 808.9 374.3 809.6 375.4 C 810.3 376.5 811.8 377.5 812.9 378.7 C 814.0 379.9 815.1 381.3 816.2 382.4 C 817.3 383.6 818.2 384.7 819.5 385.6 C 820.9 386.5 822.4 387.3 824.2 387.7 C 825.9 388.2 828.5 388.1 830.1 388.2 C 831.8 388.4 832.8 387.7 833.8 388.6 C 834.9 389.6 835.6 392.3 836.6 393.9 C 837.6 395.6 839.1 396.9 839.9 398.6 C 840.7 400.2 840.6 402.5 841.5 403.9 C 842.4 405.2 843.8 405.8 845.2 406.8 C 846.6 407.8 848.4 408.7 849.8 409.8 C 851.3 411.0 852.7 412.3 853.8 413.8 C 854.9 415.3 855.7 417.2 856.5 419.1 C 857.2 421.0 857.5 423.5 858.2 425.1 C 858.8 426.6 859.5 427.2 860.4 428.4 C 861.4 429.6 862.1 431.3 863.7 432.4 C 865.4 433.5 868.2 434.1 870.4 435.0 C 872.6 435.9 875.2 436.8 877.0 437.7 C 878.8 438.5 879.7 439.2 881.0 440.3 C 882.3 441.4 883.4 443.5 885.0 444.3 C 886.5 445.1 888.8 445.1 890.3 445.0 C 891.7 444.8 892.5 444.1 893.6 443.4 C 894.7 442.6 895.8 441.0 896.9 440.3 C 898.0 439.6 899.1 439.1 900.2 439.0 C 901.3 438.9 902.5 438.9 903.5 439.7 C 904.5 440.4 905.3 442.3 906.2 443.6 C 907.0 445.0 907.9 446.5 908.8 447.6 C 909.7 448.7 910.4 449.7 911.5 450.0 C 912.6 450.3 914.1 449.2 915.4 449.2 C 916.8 449.2 918.4 449.4 919.4 450.0 C 920.5 450.6 921.5 451.3 921.8 452.9 C 922.1 454.5 921.3 457.5 921.4 459.5 C 921.6 461.5 922.1 463.1 922.7 464.8 C 923.4 466.6 924.4 468.5 925.4 470.1 C 926.4 471.7 927.5 473.3 928.7 474.4 C 929.9 475.4 931.2 476.3 932.7 476.5 C 934.1 476.7 935.8 476.3 937.3 475.7 C 938.9 475.1 940.4 473.8 942.0 472.8 C 943.5 471.8 945.0 470.5 946.6 469.5 C 948.1 468.5 949.7 467.5 951.2 466.8 C 952.8 466.2 954.5 465.7 955.9 465.5 C 957.2 465.3 958.5 465.0 959.5 465.8 C 960.5 466.6 961.2 468.2 961.9 470.1 C 962.5 471.9 963.0 474.4 963.3 476.7 C 963.7 479.1 964.0 481.8 964.1 484.0 C 964.1 486.3 963.6 488.1 963.7 490.1 C 963.9 492.1 964.3 494.3 964.9 496.2 C 965.5 498.1 966.4 499.9 967.4 501.7 C 968.3 503.4 969.3 505.0 970.4 506.5 C 971.5 508.1 972.7 509.5 974.0 510.8 C 975.4 512.1 977.1 513.1 978.3 514.4 C 979.5 515.8 980.5 517.2 981.1 518.7 C 981.7 520.2 981.9 521.8 981.9 523.6 C 982.0 525.3 981.7 527.1 981.3 529.0 C 980.9 531.0 980.2 533.2 979.5 535.1 C 978.8 537.0 977.7 538.8 977.1 540.6 C 976.5 542.4 976.1 544.3 975.9 546.0 C 975.7 547.8 975.7 549.3 975.9 550.9 C 976.1 552.5 976.4 554.3 977.1 555.8 C 977.8 557.3 978.9 558.7 980.1 560.0 C 981.3 561.3 983.0 562.6 984.4 563.7 C 985.8 564.8 987.3 566.0 988.6 566.7 C 989.9 567.4 991.0 567.7 992.3 567.7 C 993.6 567.6 995.0 567.0 996.5 566.5 C 998.1 565.9 999.8 565.2 1001.4 564.3 C 1003.0 563.4 1004.8 562.5 1006.3 561.2 C 1007.7 560.0 1008.9 558.6 1009.9 557.0 C 1010.9 555.4 1011.8 553.5 1012.3 551.5 C 1012.8 549.5 1012.7 547.2 1012.9 544.8 C 1013.2 542.5 1013.6 539.9 1013.9 537.5 C 1014.3 535.2 1014.7 532.5 1015.1 530.9 C 1015.6 529.2 1016.4 528.3 1016.6 527.8"/>
<path d="M 84.5 890.3 L 102.2 892.7 L 117.5 907.7 L 127.9 925.7 L 142.2 944.4 L 127.2 958.7 L 112.7 975.1 L 109.7 987.9 L 107.7 1000.6 L 108.8 1020.8 L 118.2 1035.8"/>
</g>
<path d="M 538.75 113.90 A 430.85 430.85 0 1 0 538.75 975.60 A 430.85 430.85 0 1 0 538.75 113.90" stroke="#000" stroke-width="4.17" stroke-dasharray="15.4100 6.6636" fill="none"/>
<path d="M 538.60 329.90 A 215.40 215.20 0 1 0 538.60 760.30 A 215.40 215.20 0 1 0 538.60 329.90" stroke="#000" stroke-width="4.17" stroke-dasharray="15.4020 6.6600" fill="none"/>
<path d="M 539.5 542.75 V 549.25 M 536.7 546.0 H 542.3" stroke="#000" stroke-width="3.3" stroke-linecap="round" fill="none"/>
</g>
<rect x="85.50" y="45.50" width="930.00" height="988.80" fill="none" stroke="#000" stroke-width="1.1"/>
<rect x="1073.45" y="957.88" width="45.20" height="32.77" fill="#6a78aa"/>
<rect x="1073.45" y="925.70" width="45.20" height="32.77" fill="#5b6ba4"/>
<rect x="1073.45" y="893.53" width="45.20" height="32.77" fill="#475fa2"/>
<rect x="1073.45" y="861.36" width="45.20" height="32.77" fill="#4d79b0"/>
<rect x="1073.45" y="829.18" width="45.20" height="32.77" fill="#5b9dc8"/>
<rect x="1073.45" y="797.01" width="45.20" height="32.77" fill="#67bfde"/>
<rect x="1073.45" y="764.84" width="45.20" height="32.77" fill="#66d6c6"/>
<rect x="1073.45" y="732.66" width="45.20" height="32.77" fill="#3fd56c"/>
<rect x="1073.45" y="700.49" width="45.20" height="32.77" fill="#13c61e"/>
<rect x="1073.45" y="668.32" width="45.20" height="32.77" fill="#11b41b"/>
<rect x="1073.45" y="636.14" width="45.20" height="32.77" fill="#0e9f16"/>
<rect x="1073.45" y="603.97" width="45.20" height="32.77" fill="#0d8d13"/>
<rect x="1073.45" y="571.80" width="45.20" height="32.77" fill="#0a790f"/>
<rect x="1073.45" y="539.62" width="45.20" height="32.77" fill="#07620a"/>
<rect x="1073.45" y="507.45" width="45.20" height="32.77" fill="#4b820b"/>
<rect x="1073.45" y="475.28" width="45.20" height="32.77" fill="#b6ae08"/>
<rect x="1073.45" y="443.11" width="45.20" height="32.77" fill="#ffd800"/>
<rect x="1073.45" y="410.93" width="45.20" height="32.77" fill="#ffb400"/>
<rect x="1073.45" y="378.76" width="45.20" height="32.77" fill="#ff9800"/>
<rect x="1073.45" y="346.59" width="45.20" height="32.77" fill="#ff7e00"/>
<rect x="1073.45" y="314.41" width="45.20" height="32.77" fill="#e60000"/>
<rect x="1073.45" y="282.24" width="45.20" height="32.77" fill="#c00000"/>
<rect x="1073.45" y="250.07" width="45.20" height="32.77" fill="#9c0000"/>
<rect x="1073.45" y="217.89" width="45.20" height="32.77" fill="#780000"/>
<rect x="1073.45" y="185.72" width="45.20" height="32.77" fill="#fddfff"/>
<rect x="1073.45" y="153.55" width="45.20" height="32.77" fill="#ffb2ff"/>
<rect x="1073.45" y="121.37" width="45.20" height="32.77" fill="#fd6afd"/>
<rect x="1073.45" y="89.20" width="45.20" height="32.77" fill="#ea36f0"/>
<rect x="1073.45" y="89.50" width="45.20" height="900.85" fill="none" stroke="#000" stroke-width="1.1"/>
<line x1="1118.65" y1="990.35" x2="1123.55" y2="990.35" stroke="#000" stroke-width="1.1"/>
<line x1="1118.65" y1="861.66" x2="1123.55" y2="861.66" stroke="#000" stroke-width="1.1"/>
<line x1="1118.65" y1="732.96" x2="1123.55" y2="732.96" stroke="#000" stroke-width="1.1"/>
<line x1="1118.65" y1="604.27" x2="1123.55" y2="604.27" stroke="#000" stroke-width="1.1"/>
<line x1="1118.65" y1="475.58" x2="1123.55" y2="475.58" stroke="#000" stroke-width="1.1"/>
<line x1="1118.65" y1="346.89" x2="1123.55" y2="346.89" stroke="#000" stroke-width="1.1"/>
<line x1="1118.65" y1="218.19" x2="1123.55" y2="218.19" stroke="#000" stroke-width="1.1"/>
<line x1="1118.65" y1="89.50" x2="1123.55" y2="89.50" stroke="#000" stroke-width="1.1"/>
<g opacity="0.999" text-rendering="geometricPrecision">
<text x="355.14" y="38.20" font-size="37.71" textLength="197.14" lengthAdjust="spacingAndGlyphs">07.10.2025</text>
<text x="565.84" y="38.20" font-size="37.71" textLength="98.56" lengthAdjust="spacingAndGlyphs">14:53</text>
<text x="676.42" y="38.20" font-size="37.71" textLength="68.24" lengthAdjust="spacingAndGlyphs">UTC</text>
<text x="36.90" y="79.72" font-size="18.10" textLength="40.90" lengthAdjust="spacingAndGlyphs">50°N</text>
<text x="11.40" y="230.72" font-size="18.10" textLength="66.40" lengthAdjust="spacingAndGlyphs">49.95°N</text>
<text x="21.10" y="380.72" font-size="18.10" textLength="56.70" lengthAdjust="spacingAndGlyphs">49.9°N</text>
<text x="11.40" y="530.72" font-size="18.10" textLength="66.40" lengthAdjust="spacingAndGlyphs">49.85°N</text>
<text x="21.10" y="679.72" font-size="18.10" textLength="56.70" lengthAdjust="spacingAndGlyphs">49.8°N</text>
<text x="11.40" y="829.72" font-size="18.10" textLength="66.40" lengthAdjust="spacingAndGlyphs">49.75°N</text>
<text x="21.10" y="978.72" font-size="18.10" textLength="56.70" lengthAdjust="spacingAndGlyphs">49.7°N</text>
<text x="139.90" y="1054.80" font-size="18.40" textLength="44.00" lengthAdjust="spacingAndGlyphs">5.9°E</text>
<text x="341.80" y="1054.80" font-size="18.40" textLength="28.70" lengthAdjust="spacingAndGlyphs">6°E</text>
<text x="527.20" y="1054.80" font-size="18.40" textLength="45.10" lengthAdjust="spacingAndGlyphs">6.1°E</text>
<text x="720.90" y="1054.80" font-size="18.40" textLength="44.60" lengthAdjust="spacingAndGlyphs">6.2°E</text>
<text x="914.80" y="1054.80" font-size="18.40" textLength="44.60" lengthAdjust="spacingAndGlyphs">6.3°E</text>
<text x="1129.60" y="1000.60" font-size="29.77" textLength="16.80" lengthAdjust="spacingAndGlyphs">0</text>
<text x="1128.70" y="871.87" font-size="29.77" textLength="33.70" lengthAdjust="spacingAndGlyphs">10</text>
<text x="1128.80" y="743.14" font-size="29.77" textLength="33.30" lengthAdjust="spacingAndGlyphs">20</text>
<text x="1129.20" y="614.81" font-size="29.77" textLength="32.90" lengthAdjust="spacingAndGlyphs">30</text>
<text x="1128.00" y="486.09" font-size="29.77" textLength="34.00" lengthAdjust="spacingAndGlyphs">40</text>
<text x="1128.80" y="357.36" font-size="29.77" textLength="33.30" lengthAdjust="spacingAndGlyphs">50</text>
<text x="1128.80" y="228.63" font-size="29.77" textLength="33.30" lengthAdjust="spacingAndGlyphs">60</text>
<text x="1128.80" y="99.90" font-size="29.77" textLength="33.30" lengthAdjust="spacingAndGlyphs">70</text>
<text x="303.20" y="116.90" font-size="20.72" textLength="67.60" lengthAdjust="spacingAndGlyphs" font-weight="bold">16 km</text>
<text x="423.40" y="311.15" font-size="20.18" textLength="53.20" lengthAdjust="spacingAndGlyphs" font-weight="bold">8 km</text>
<text transform="translate(1192.00 570.20) rotate(-90)" font-size="31.06" textLength="55.00" lengthAdjust="spacingAndGlyphs">dBZ</text>
</g>
</svg>
</body></html>
